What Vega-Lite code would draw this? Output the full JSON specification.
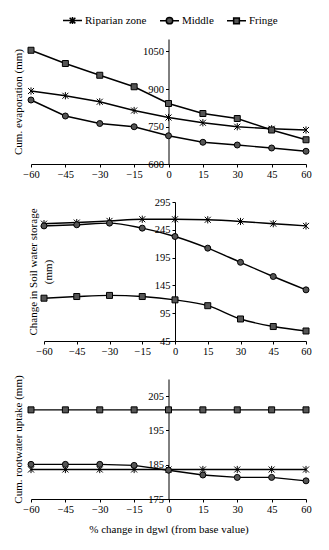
{
  "$schema": "https://vega.github.io/schema/vega-lite/v6.json",
  "padding": {"left": 12, "top": 10, "right": 5, "bottom": 5},
  "background": "white",
  "datasets": {
    "evap": [
      {"dgwl": -60, "zone": "Riparian zone", "value": 892},
      {"dgwl": -45, "zone": "Riparian zone", "value": 873},
      {"dgwl": -30, "zone": "Riparian zone", "value": 849},
      {"dgwl": -15, "zone": "Riparian zone", "value": 814},
      {"dgwl": 0, "zone": "Riparian zone", "value": 786},
      {"dgwl": 15, "zone": "Riparian zone", "value": 765},
      {"dgwl": 30, "zone": "Riparian zone", "value": 749},
      {"dgwl": 45, "zone": "Riparian zone", "value": 741},
      {"dgwl": 60, "zone": "Riparian zone", "value": 736},
      {"dgwl": -60, "zone": "Middle", "value": 856},
      {"dgwl": -45, "zone": "Middle", "value": 792},
      {"dgwl": -30, "zone": "Middle", "value": 762},
      {"dgwl": -15, "zone": "Middle", "value": 749},
      {"dgwl": 0, "zone": "Middle", "value": 713},
      {"dgwl": 15, "zone": "Middle", "value": 687},
      {"dgwl": 30, "zone": "Middle", "value": 676},
      {"dgwl": 45, "zone": "Middle", "value": 664},
      {"dgwl": 60, "zone": "Middle", "value": 651},
      {"dgwl": -60, "zone": "Fringe", "value": 1055},
      {"dgwl": -45, "zone": "Fringe", "value": 1002},
      {"dgwl": -30, "zone": "Fringe", "value": 955},
      {"dgwl": -15, "zone": "Fringe", "value": 909},
      {"dgwl": 0, "zone": "Fringe", "value": 842},
      {"dgwl": 15, "zone": "Fringe", "value": 802},
      {"dgwl": 30, "zone": "Fringe", "value": 782},
      {"dgwl": 45, "zone": "Fringe", "value": 736},
      {"dgwl": 60, "zone": "Fringe", "value": 697}
    ],
    "soil": [
      {"dgwl": -60, "zone": "Riparian zone", "value": 256},
      {"dgwl": -45, "zone": "Riparian zone", "value": 258},
      {"dgwl": -30, "zone": "Riparian zone", "value": 261},
      {"dgwl": -15, "zone": "Riparian zone", "value": 264},
      {"dgwl": 0, "zone": "Riparian zone", "value": 264},
      {"dgwl": 15, "zone": "Riparian zone", "value": 263},
      {"dgwl": 30, "zone": "Riparian zone", "value": 260},
      {"dgwl": 45, "zone": "Riparian zone", "value": 256},
      {"dgwl": 60, "zone": "Riparian zone", "value": 252},
      {"dgwl": -60, "zone": "Middle", "value": 252},
      {"dgwl": -45, "zone": "Middle", "value": 254},
      {"dgwl": -30, "zone": "Middle", "value": 257},
      {"dgwl": -15, "zone": "Middle", "value": 248},
      {"dgwl": 0, "zone": "Middle", "value": 233},
      {"dgwl": 15, "zone": "Middle", "value": 212},
      {"dgwl": 30, "zone": "Middle", "value": 186.5},
      {"dgwl": 45, "zone": "Middle", "value": 161},
      {"dgwl": 60, "zone": "Middle", "value": 137},
      {"dgwl": -60, "zone": "Fringe", "value": 122},
      {"dgwl": -45, "zone": "Fringe", "value": 125},
      {"dgwl": -30, "zone": "Fringe", "value": 127},
      {"dgwl": -15, "zone": "Fringe", "value": 125},
      {"dgwl": 0, "zone": "Fringe", "value": 119},
      {"dgwl": 15, "zone": "Fringe", "value": 108.5},
      {"dgwl": 30, "zone": "Fringe", "value": 84.6},
      {"dgwl": 45, "zone": "Fringe", "value": 71},
      {"dgwl": 60, "zone": "Fringe", "value": 63}
    ],
    "uptake": [
      {"dgwl": -60, "zone": "Riparian zone", "value": 183.6},
      {"dgwl": -45, "zone": "Riparian zone", "value": 183.6},
      {"dgwl": -30, "zone": "Riparian zone", "value": 183.6},
      {"dgwl": -15, "zone": "Riparian zone", "value": 183.6},
      {"dgwl": 0, "zone": "Riparian zone", "value": 183.6},
      {"dgwl": 15, "zone": "Riparian zone", "value": 183.6},
      {"dgwl": 30, "zone": "Riparian zone", "value": 183.6},
      {"dgwl": 45, "zone": "Riparian zone", "value": 183.6},
      {"dgwl": 60, "zone": "Riparian zone", "value": 183.6},
      {"dgwl": -60, "zone": "Middle", "value": 185.1},
      {"dgwl": -45, "zone": "Middle", "value": 185.1},
      {"dgwl": -30, "zone": "Middle", "value": 185.1},
      {"dgwl": -15, "zone": "Middle", "value": 184.8},
      {"dgwl": 0, "zone": "Middle", "value": 183.4},
      {"dgwl": 15, "zone": "Middle", "value": 182},
      {"dgwl": 30, "zone": "Middle", "value": 181.3},
      {"dgwl": 45, "zone": "Middle", "value": 181.3},
      {"dgwl": 60, "zone": "Middle", "value": 180.3},
      {"dgwl": -60, "zone": "Fringe", "value": 201},
      {"dgwl": -45, "zone": "Fringe", "value": 201},
      {"dgwl": -30, "zone": "Fringe", "value": 201},
      {"dgwl": -15, "zone": "Fringe", "value": 201},
      {"dgwl": 0, "zone": "Fringe", "value": 201},
      {"dgwl": 15, "zone": "Fringe", "value": 201},
      {"dgwl": 30, "zone": "Fringe", "value": 201},
      {"dgwl": 45, "zone": "Fringe", "value": 201},
      {"dgwl": 60, "zone": "Fringe", "value": 201}
    ]
  },
  "columns": 1,
  "align": "none",
  "spacing": 17,
  "concat": [
    {
      "width": 275,
      "height": 125,
      "data": {"name": "evap"},
      "resolve": {"scale": {"shape": "independent"}, "legend": {"shape": "independent"}},
      "encoding": {
        "x": {"field": "dgwl", "type": "quantitative", "scale": {"domain": [-60, 60], "nice": false},
          "axis": {"values": [-60, -45, -30, -15, 0, 15, 30, 45, 60], "title": null}},
        "y": {"field": "value", "type": "quantitative", "scale": {"domain": [600, 1100], "nice": false, "zero": false},
          "axis": {"values": [600, 750, 900, 1050], "title": "Cum. evaporation (mm)", "offset": -137.5, "titleX": -145.5}}
      },
      "layer": [
        {
          "mark": {"type": "line", "color": "black", "strokeWidth": 1.4},
          "encoding": {"detail": {"field": "zone"}}
        },
        {
          "mark": {"type": "point", "filled": true, "fill": "#555", "stroke": "black", "strokeWidth": 1, "opacity": 1, "size": 36},
          "encoding": {
            "shape": {"field": "zone", "type": "nominal",
              "scale": {"domain": ["Riparian zone", "Middle", "Fringe"], "range": ["M-1,-1L1,1M-1,1L1,-1M0,-1.2V1.2", "circle", "square"]},
              "legend": null}
          }
        },
        {
          "transform": [{"filter": "false"}],
          "mark": {"type": "point", "filled": true, "fill": "#555", "stroke": "black", "strokeWidth": 1.3, "opacity": 1},
          "encoding": {
            "shape": {"field": "zone", "type": "nominal",
              "scale": {"domain": ["Riparian zone", "Middle", "Fringe"], "range": [
                "M-1,0H1M-0.3,-0.3L0.3,0.3M-0.3,0.3L0.3,-0.3M0,-0.36V0.36",
                "M-1,0H-0.34M0.34,0H1M0.34,0A0.34,0.34,0,1,1,-0.34,0A0.34,0.34,0,1,1,0.34,0Z",
                "M-1,0H-0.3M0.3,0H1M-0.3,-0.3H0.3V0.3H-0.3Z"]},
              "legend": {
                "title": null, "orient": "none", "direction": "horizontal", "legendX": 31, "legendY": -29,
                "symbolSize": 361, "labelOffset": 2, "columnPadding": 10,
                "encode": {"symbols": {"update": {
                  "fill": {"value": "#555"},
                  "stroke": {"value": "black"},
                  "strokeWidth": {"value": 1.3},
                  "opacity": {"value": 1}
                }}}
              }}
          }
        }
      ]
    },
    {
      "width": 275,
      "height": 139,
      "data": {"name": "soil"},
      "encoding": {
        "x": {"field": "dgwl", "type": "quantitative", "scale": {"domain": [-60, 60], "nice": false, "range": [13, 275]},
          "axis": {"values": [-60, -45, -30, -15, 0, 15, 30, 45, 60], "title": null}},
        "y": {"field": "value", "type": "quantitative", "scale": {"domain": [45, 295], "nice": false, "zero": false},
          "axis": {"values": [45, 95, 145, 195, 245, 295], "title": ["Change in Soil water storage", "(mm)"], "offset": -144, "titleX": -137, "titleLineHeight": 15}}
      },
      "layer": [
        {
          "mark": {"type": "line", "color": "black", "strokeWidth": 1.4, "interpolate": "monotone"},
          "encoding": {"detail": {"field": "zone"}}
        },
        {
          "mark": {"type": "point", "filled": true, "fill": "#555", "stroke": "black", "strokeWidth": 1, "opacity": 1, "size": 36},
          "encoding": {
            "shape": {"field": "zone", "type": "nominal",
              "scale": {"domain": ["Riparian zone", "Middle", "Fringe"], "range": ["M-1,-1L1,1M-1,1L1,-1M0,-1.2V1.2", "circle", "square"]},
              "legend": null}
          }
        }
      ]
    },
    {
      "width": 275,
      "height": 120,
      "data": {"name": "uptake"},
      "encoding": {
        "x": {"field": "dgwl", "type": "quantitative", "scale": {"domain": [-60, 60], "nice": false},
          "axis": {"values": [-60, -45, -30, -15, 0, 15, 30, 45, 60], "title": "% change in dgwl (from base value)", "titlePadding": 9}},
        "y": {"field": "value", "type": "quantitative", "scale": {"domain": [175, 210], "nice": false, "zero": false},
          "axis": {"values": [175, 185, 195, 205], "title": "Cum. rootwater uptake (mm)", "offset": -137.5, "titleX": -145.5}}
      },
      "layer": [
        {
          "mark": {"type": "line", "color": "black", "strokeWidth": 1.4},
          "encoding": {"detail": {"field": "zone"}}
        },
        {
          "mark": {"type": "point", "filled": true, "fill": "#555", "stroke": "black", "strokeWidth": 1, "opacity": 1, "size": 36},
          "encoding": {
            "shape": {"field": "zone", "type": "nominal",
              "scale": {"domain": ["Riparian zone", "Middle", "Fringe"], "range": ["M-1,-1L1,1M-1,1L1,-1M0,-1.2V1.2", "circle", "square"]},
              "legend": null}
          }
        }
      ]
    }
  ],
  "config": {
    "font": "Liberation Serif",
    "view": {"stroke": null},
    "axis": {
      "grid": false,
      "domainColor": "black",
      "tickColor": "black",
      "tickSize": 3,
      "labelPadding": 2,
      "labelFontSize": 10.5,
      "labelColor": "black",
      "labelFont": "Liberation Serif",
      "titleFont": "Liberation Serif",
      "titleFontSize": 11,
      "titleFontWeight": "normal",
      "titleColor": "black",
      "domainWidth": 1,
      "labelOverlap": false,
      "format": "d"
    },
    "axisX": {"labelAngle": 0, "labelFlush": false},
    "axisY": {"labelFlush": false},
    "legend": {
      "labelFont": "Liberation Serif",
      "labelFontSize": 11,
      "labelColor": "black"
    }
  }
}
